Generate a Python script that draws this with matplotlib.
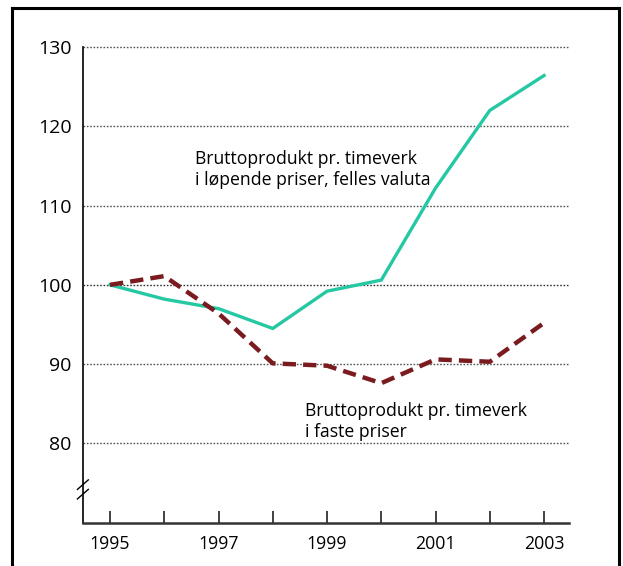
import matplotlib
matplotlib.use("Agg")
import matplotlib.pyplot as plt
from matplotlib.lines import Line2D

years = [1995, 1996, 1997, 1998, 1999, 2000, 2001, 2002, 2003]
lopende = [100.0, 98.2, 97.0, 94.5, 99.2, 100.6, 112.2, 122.0, 126.4]
faste = [100.0, 101.1, 96.4, 90.1, 89.8, 87.6, 90.6, 90.3, 95.2]
ytick_vals = [80, 90, 100, 110, 120, 130]
xtick_labels = ["1995", "", "1997", "", "1999", "", "2001", "", "2003"]
label_lopende = "Bruttoprodukt pr. timeverk\ni løpende priser, felles valuta"
label_faste = "Bruttoprodukt pr. timeverk\ni faste priser"

plt.rcParams['font.family'] = ['Open Sans', 'DejaVu Sans']

fig = plt.figure(figsize=(6.23, 5.66), dpi=100)
ax = fig.add_axes([82.7/623, (566-522.7)/566, (569-82.7)/623, (522.7-47)/566])

for v in ytick_vals:
    ax.axhline(v, color='#333333' if v == 100 else '#555555', linestyle=(0, (1.2, 1.2)),
               linewidth=1.0, zorder=1, clip_on=False)

ax.plot(years, lopende, color='#25c8a2', linewidth=2.4, zorder=3, solid_joinstyle='miter')
ax.plot(years, faste, color='#7a1c1f', linewidth=3.2, linestyle=(0, (3, 1.6)), zorder=4)

ax.set_xlim(1994.497, 2003.46)
ax.set_ylim(70, 130)
ax.set_xticks(years)
ax.set_xticklabels(xtick_labels)
ax.set_yticks(ytick_vals)
ax.tick_params(axis='x', direction='in', length=9, width=1.2, color='#222222',
               labelsize=12.8, pad=9)
ax.tick_params(axis='y', length=0, labelsize=14, pad=8)
for lbl in ax.get_yticklabels():
    lbl.set_va('center_baseline')
for s in ['top', 'right']:
    ax.spines[s].set_visible(False)
ax.spines['left'].set_linewidth(1.2)
ax.spines['bottom'].set_linewidth(1.8)
ax.spines['bottom'].set_color('#333333')

ax.text(1996.57, 112.55, label_lopende, fontsize=12.7, va='baseline', ha='left', linespacing=1.25)
ax.text(1998.59, 80.8, label_faste, fontsize=12.7, va='baseline', ha='left', linespacing=1.25)

# axis break marks
for dy in (-0.6, 0.6):
    ax.add_line(Line2D([1994.40, 1994.60], [74.2 + dy - 0.6, 74.2 + dy + 0.6],
                       color='black', linewidth=1.0, clip_on=False))

# outer frame
fig.add_artist(Line2D([12/623, 12/623], [0, 1 - 8/566], color='black', linewidth=2.2))
fig.add_artist(Line2D([12/623, 619/623], [1 - 8/566, 1 - 8/566], color='black', linewidth=2.2))
fig.add_artist(Line2D([619/623, 619/623], [0, 1 - 8/566], color='black', linewidth=2.2))

fig.savefig("out.png", dpi=100)
